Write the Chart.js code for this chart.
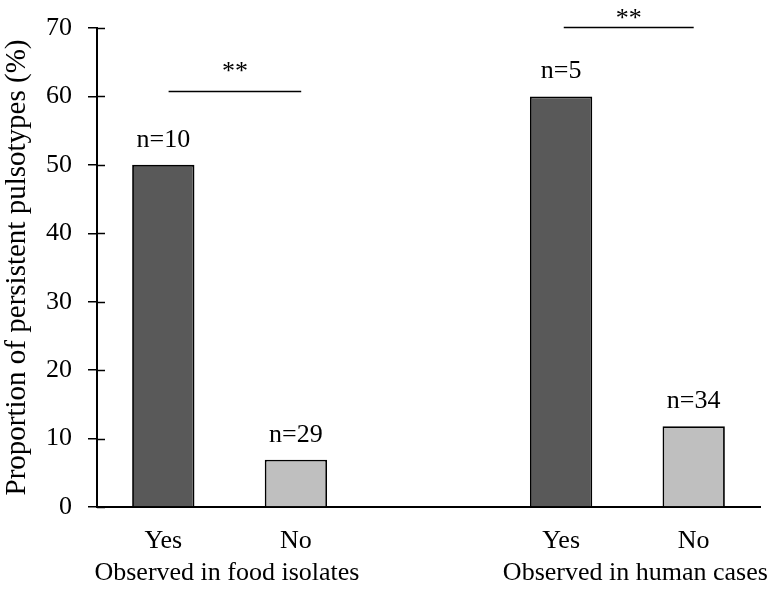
<!DOCTYPE html>
<html>
<head>
<meta charset="utf-8">
<script src="https://cdn.jsdelivr.net/npm/chart.js@4/dist/chart.umd.min.js"></script>
<style>
  html, body { margin: 0; padding: 0; background: #fff; }
  #wrap { width: 780px; height: 590px; }
</style>
</head>
<body>
<div id="wrap"><canvas id="c" width="780" height="590"></canvas></div>
<script>
// ---- data ----
const barLabels = ['Yes', 'No', '', 'Yes', 'No'];
const values = [50, 6.9, null, 60, 11.8];
const nLabels = ['n=10', 'n=29', '', 'n=5', 'n=34'];
const barColors = ['#595959', '#bfbfbf', '#ffffff', '#595959', '#bfbfbf'];
const groupLabels = ['Observed in food isolates', 'Observed in human cases'];
const groupCenters = [0.48, 3.56];
// significance brackets: from index, to index, y value, star y value
const sigFrom = [0.04, 3.02];
const sigTo = [1.04, 4.0];
const sigY = [60.8, 70.2];
const sigStarY = [64.4, 72.2];
const sigText = ['**', '**'];
const yTitle = 'Proportion of persistent pulsotypes (%)';

const FONT = "'Liberation Serif', 'Times New Roman', serif";
const FS = 26;

const annot = {
  id: 'annot',
  afterDraw(chart) {
    const ctx = chart.ctx;
    const x = chart.scales.x, y = chart.scales.y;
    ctx.save();
    // inner tick marks on y axis
    ctx.strokeStyle = '#000';
    ctx.lineWidth = 1.5;
    y.ticks.forEach(t => {
      const py = Math.round(y.getPixelForValue(t.value)) + 0.5;
      ctx.beginPath();
      ctx.moveTo(x.left, py);
      ctx.lineTo(x.left + 8, py);
      ctx.stroke();
    });
    // n labels
    ctx.fillStyle = '#000';
    ctx.font = FS + 'px ' + FONT;
    ctx.textAlign = 'center';
    ctx.textBaseline = 'middle';
    values.forEach((v, i) => {
      if (v == null || !nLabels[i]) return;
      ctx.fillText(nLabels[i], x.getPixelForValue(i), y.getPixelForValue(v) - 25);
    });
    // group labels
    const slot = (x.right - x.left) / barLabels.length;
    const px = v => x.left + (v + 0.5) * slot;
    groupLabels.forEach((g, i) => {
      ctx.fillText(g, px(groupCenters[i]), y.bottom + 66);
    });
    // significance lines
    ctx.lineWidth = 1.5;
    ctx.strokeStyle = '#000';
    sigY.forEach((sy, i) => {
      const py = Math.round(y.getPixelForValue(sy)) + 0.5;
      ctx.beginPath();
      ctx.moveTo(px(sigFrom[i]), py);
      ctx.lineTo(px(sigTo[i]), py);
      ctx.stroke();
      ctx.fillText(sigText[i], (px(sigFrom[i]) + px(sigTo[i])) / 2, y.getPixelForValue(sigStarY[i]) + 6);
    });
    ctx.restore();
  }
};

new Chart(document.getElementById('c'), {
  type: 'bar',
  data: {
    labels: barLabels,
    datasets: [{
      data: values,
      backgroundColor: barColors,
      borderColor: '#000',
      borderWidth: 1.8,
      borderSkipped: 'bottom',
      barPercentage: 0.47,
      categoryPercentage: 1.0
    }]
  },
  options: {
    responsive: false,
    animation: false,
    devicePixelRatio: 1,
    layout: { padding: { left: 0, right: 20, top: 28, bottom: 0 } },
    plugins: { legend: { display: false }, tooltip: { enabled: false } },
    scales: {
      x: {
        grid: { display: false, drawTicks: false },
        border: { display: true, color: '#000', width: 2 },
        ticks: { color: '#000', font: { family: FONT, size: FS }, padding: 19, maxRotation: 0, autoSkip: false },
        afterFit(s) { s.height = 83; s.paddingLeft = 0; s.paddingRight = 0; }
      },
      y: {
        min: 0, max: 70,
        grid: { display: true, drawOnChartArea: false, drawTicks: true, tickLength: 9, color: '#000', lineWidth: 1.5 },
        border: { display: true, color: '#000', width: 2 },
        ticks: { stepSize: 10, color: '#000', font: { family: FONT, size: FS }, padding: 16 },
        title: { display: true, text: yTitle, color: '#000', font: { family: FONT, size: 29 }, padding: { top: 0, bottom: 0 } },
        afterFit(s) { s.width = 97; s.paddingTop = 0; s.paddingBottom = 0; }
      }
    }
  },
  plugins: [annot]
});
</script>
</body>
</html>
